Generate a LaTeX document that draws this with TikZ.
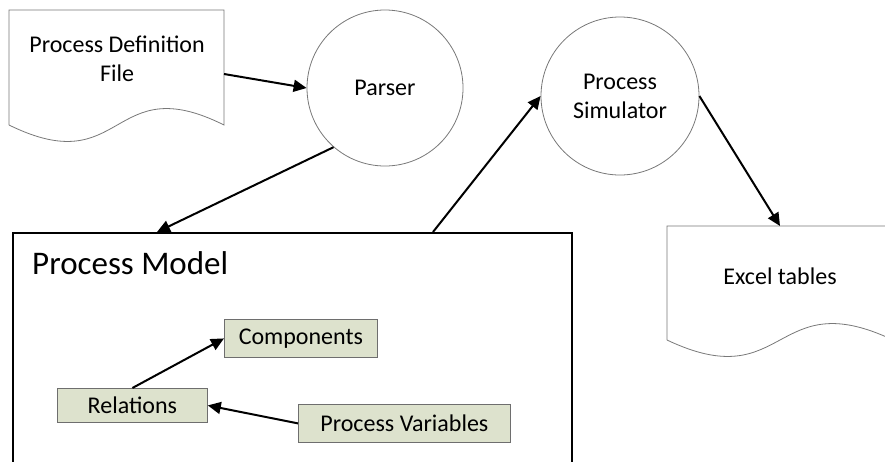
\documentclass[tikz,border=0pt]{standalone}
\usepackage{fontspec}
\setmainfont{Carlito}
\usetikzlibrary{arrows.meta}
\definecolor{boxfill}{RGB}{221,226,205}
\definecolor{boxedge}{RGB}{110,110,110}
\definecolor{thinedge}{RGB}{120,120,120}
\tikzset{
  arr/.style={line width=2pt, -{Triangle[length=13pt,width=12pt]}},
  docline/.style={draw=thinedge, line width=0.8pt},
  proc/.style={circle, draw=thinedge, line width=0.8pt, font=\fontsize{24}{29}\selectfont, align=center, inner sep=0pt},
  item/.style={rectangle, draw=boxedge, line width=0.8pt, fill=boxfill, font=\fontsize{24}{28}\selectfont, inner sep=0pt},
  doctext/.style={font=\fontsize{24}{29}\selectfont, align=center}
}
\begin{document}
\begin{tikzpicture}[x=1pt,y=-1pt]
  \useasboundingbox (0,0) rectangle (885,461);
  \clip (0,0) rectangle (885,461);

  % input document
  \draw[docline] (9,125) -- (9,10) -- (224,10) -- (224,125)
    .. controls (110,68) and (125,182) .. (9,125);
  \node[doctext] (deffile) at (117,59) {Process Definition\\File};
  \coordinate (deffileout) at (224,74);

  % output document (runs past the right edge)
  \draw[docline] (667,340) -- (667,226) -- (893,226) -- (893,340)
    .. controls (773,283) and (787,397) .. (667,340);
  \node[doctext] (excel) at (780,276) {Excel tables};
  \coordinate (excelin) at (780,226);

  % processes
  \node[proc, minimum size=156pt] (parser) at (385,88) {Parser};
  \node[proc, minimum size=158pt] (sim) at (620,96) {Process\\Simulator};

  % process model container
  \node[draw, line width=2pt, rectangle, minimum width=559pt, minimum height=250pt,
        anchor=north west, inner sep=0pt] (model) at (12,232) {};
  \node[font=\fontsize{33}{38}\selectfont, anchor=base west, inner sep=0pt] (modeltitle)
    at (32,274) {Process Model};
  \coordinate (modelin) at (157,232);
  \coordinate (modelout) at (433,232);

  % model contents
  \node[item, minimum width=153pt, minimum height=38pt, anchor=north west] (comp) at (224,319) {Components};
  \node[item, minimum width=150pt, minimum height=34pt, anchor=north west] (rel) at (57,388) {Relations};
  \node[item, minimum width=212pt, minimum height=38pt, anchor=north west] (pv) at (298,404) {Process Variables};

  % flows
  \draw[arr] (deffileout) -- (parser.west);
  \draw[arr] (parser.229) -- (modelin);
  \draw[arr] (modelout) -- (sim.west);
  \draw[arr] (sim.east) -- (excelin);
  \draw[arr] (rel.north) -- (comp.west);
  \draw[arr] (pv.west) -- (rel.east);
\end{tikzpicture}
\end{document}
